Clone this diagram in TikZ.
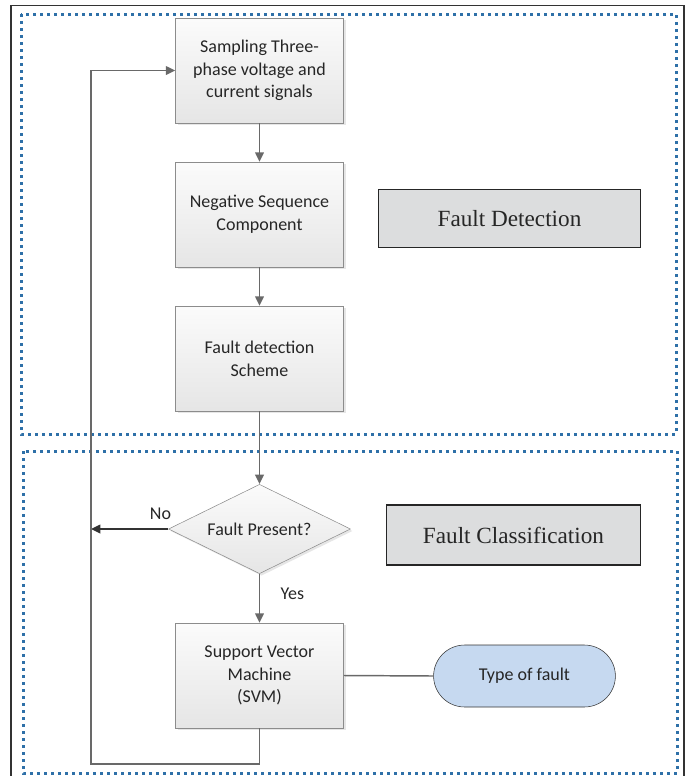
\documentclass[tikz,border=0pt]{standalone}
\usepackage{fontspec}
\setmainfont{Liberation Serif}
\newfontfamily\calib{Carlito}
\usetikzlibrary{positioning,shapes.geometric,shapes.misc,arrows.meta,shadows}

\definecolor{dotblue}{RGB}{46,112,168}
\definecolor{labgray}{RGB}{220,221,222}
\definecolor{pillblue}{RGB}{198,217,240}
\definecolor{flowgray}{RGB}{105,105,105}

\tikzset{
  procbox/.style={draw=gray!90, top color=gray!3, bottom color=gray!20,
    minimum width=126pt, minimum height=78.75pt, align=center, text=black!85,
    font=\calib\fontsize{13.5}{17}\selectfont,
    drop shadow={shadow xshift=1.5pt,shadow yshift=-1.5pt,opacity=0.2}},
  decbox/.style={procbox, diamond, aspect=2, inner sep=0pt,
    minimum width=136.5pt, minimum height=67pt},
  labbox/.style={draw=black!85, line width=0.9pt, fill=labgray, text=black!85,
    font=\fontsize{17.4}{20}\selectfont},
  pillbox/.style={rounded rectangle, draw=black!80, fill=pillblue, text=black!85,
    minimum width=143pt, minimum height=46.5pt, font=\calib\fontsize{13.5}{17}\selectfont},
  dotframe/.style={dotblue, line width=2.25pt, dash pattern=on 2.25pt off 3pt},
  flow/.style={flowgray, line width=1.1pt, -{Triangle[length=7pt,width=6.5pt]}}
}

\begin{document}
\begin{tikzpicture}[x=0.75pt,y=-0.75pt]
\useasboundingbox (0,0) rectangle (688,776);

% outer frame and the two stages
\draw[black!80, line width=1.1pt] (11,776) -- (11,5.5) -- (684,5.5) -- (684,776);
\draw[dotframe] (21,14) rectangle (676,434);
\draw[dotframe] (23,451) rectangle (677,773);

% flow boxes
\node[procbox] (samp) at (259.5,70.5) {Sampling Three-\\phase voltage and\\current signals};
\node[procbox] (neg) at (259.5,214.5) {Negative Sequence\\Component};
\node[procbox] (det) at (259.5,358.5) {Fault detection\\Scheme};
\node[decbox] (dec) at (259.5,529) {Fault Present?};
\node[procbox] (svm) at (259.5,675.5) {Support Vector\\Machine\\(SVM)};
\node[pillbox] (type) at (524.5,676) {Type of fault};

% stage labels
\node[labbox, minimum width=196pt, minimum height=44pt] (detlab) at (509.5,218.5) {Fault Detection};
\node[labbox, minimum width=190pt, minimum height=45pt] (classlab) at (513.5,535) {Fault Classification};

\coordinate (loopbl) at (91,764);

\draw[flow] (samp) -- (neg);
\draw[flow] (neg) -- (det);
\draw[flow] (det) -- (dec);
\draw[flow] (dec) -- node[right, pos=0.4, xshift=12pt, font=\calib\fontsize{13.5}{17}\selectfont, text=black!85] (yes) {Yes} (svm);
\draw[flow, black!80] (dec.west) -- node[above, pos=0.1, yshift=3pt, font=\calib\fontsize{13.5}{17}\selectfont, text=black!85] (no) {No} (dec.west -| loopbl);
\draw[flowgray, line width=1.1pt] (svm.east) -- (type.west);
\draw[flow] (svm.south) |- (loopbl) |- (samp.west);

\end{tikzpicture}
\end{document}
